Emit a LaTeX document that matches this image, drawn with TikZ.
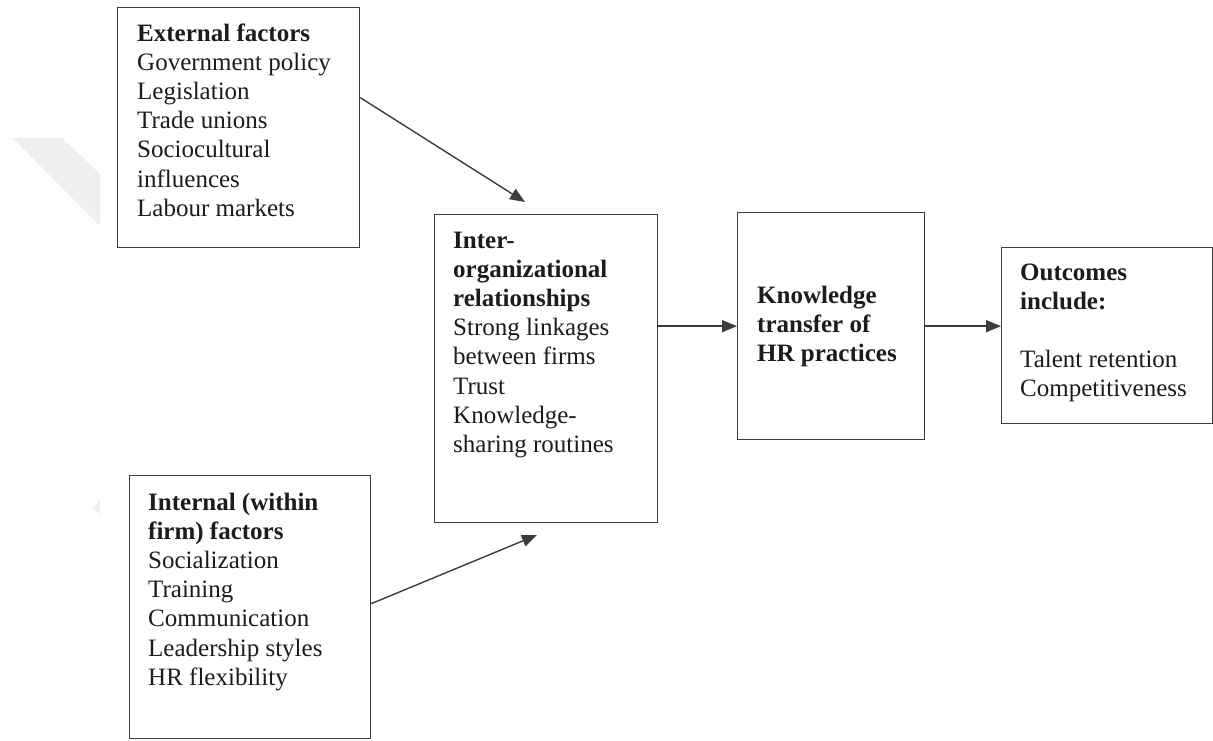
\documentclass[tikz,border=0pt]{standalone}
\usepackage{fontspec}
\setmainfont{Liberation Serif}
\usetikzlibrary{arrows.meta}
\definecolor{boxline}{HTML}{3C3C3C}
\definecolor{ink}{HTML}{1C1C1C}
\definecolor{haze}{HTML}{EFEFEF}
\begin{document}
\begin{tikzpicture}[x=1pt,y=-1pt,
  box/.style={draw=boxline,line width=1.3pt,anchor=north west,inner sep=0pt},
  label/.style={anchor=north west,inner sep=0pt,align=left,text=ink,
    font=\fontsize{25}{29.2}\selectfont},
  link/.style={draw=boxline,line width=1.4pt,-{Triangle[length=15pt,width=12pt]}}]
\path[use as bounding box,fill=white] (0,0) rectangle (1213,740);

% faint background marks
\fill[haze] (13,138) -- (62,138) -- (100,174) -- (100,226) -- cycle;
\fill[haze] (93,508) -- (100,500) -- (100,514) -- cycle;

% boxes
\node[box,minimum width=242pt,minimum height=240pt] (ext) at (117,7) {};
\node[box,minimum width=241pt,minimum height=263pt] (int) at (129,475) {};
\node[box,minimum width=223pt,minimum height=308pt] (inter) at (434,214) {};
\node[box,minimum width=187pt,minimum height=227pt] (know) at (737,212) {};
\node[box,minimum width=211pt,minimum height=176pt] (out) at (1001,247) {};

% box texts (first baseline minus strut height)
\node[label] (extT) at (137,20.5) {\strut\textbf{External factors}\\Government policy\\Legislation\\Trade unions\\Sociocultural\\influences\\Labour markets};
\node[label] (intT) at (148,489.5) {\strut\textbf{Internal (within}\\\textbf{firm) factors}\\Socialization\\Training\\Communication\\Leadership styles\\HR flexibility};
\node[label] (interT) at (453,227.5) {\strut\textbf{Inter-}\\\textbf{organizational}\\\textbf{relationships}\\Strong linkages\\between firms\\Trust\\Knowledge-\\sharing routines};
\node[label] (knowT) at (757,282.5) {\strut\textbf{Knowledge}\\\textbf{transfer of}\\\textbf{HR practices}};
\node[label] (outT) at (1020,259.5) {\strut\textbf{Outcomes}\\\textbf{include:}\\[29.2pt]Talent retention\\Competitiveness};

% connectors
\coordinate (extTip) at (525,202);
\coordinate (intTip) at (537,535);
\draw[link] ([yshift=30pt]ext.east) -- (extTip);
\draw[link] ([yshift=3.5pt]int.east) -- (intTip);
\draw[link] (inter.east |- know.west) -- (know.west);
\draw[link] (know.east) -- (out.west |- know.east);
\end{tikzpicture}
\end{document}
